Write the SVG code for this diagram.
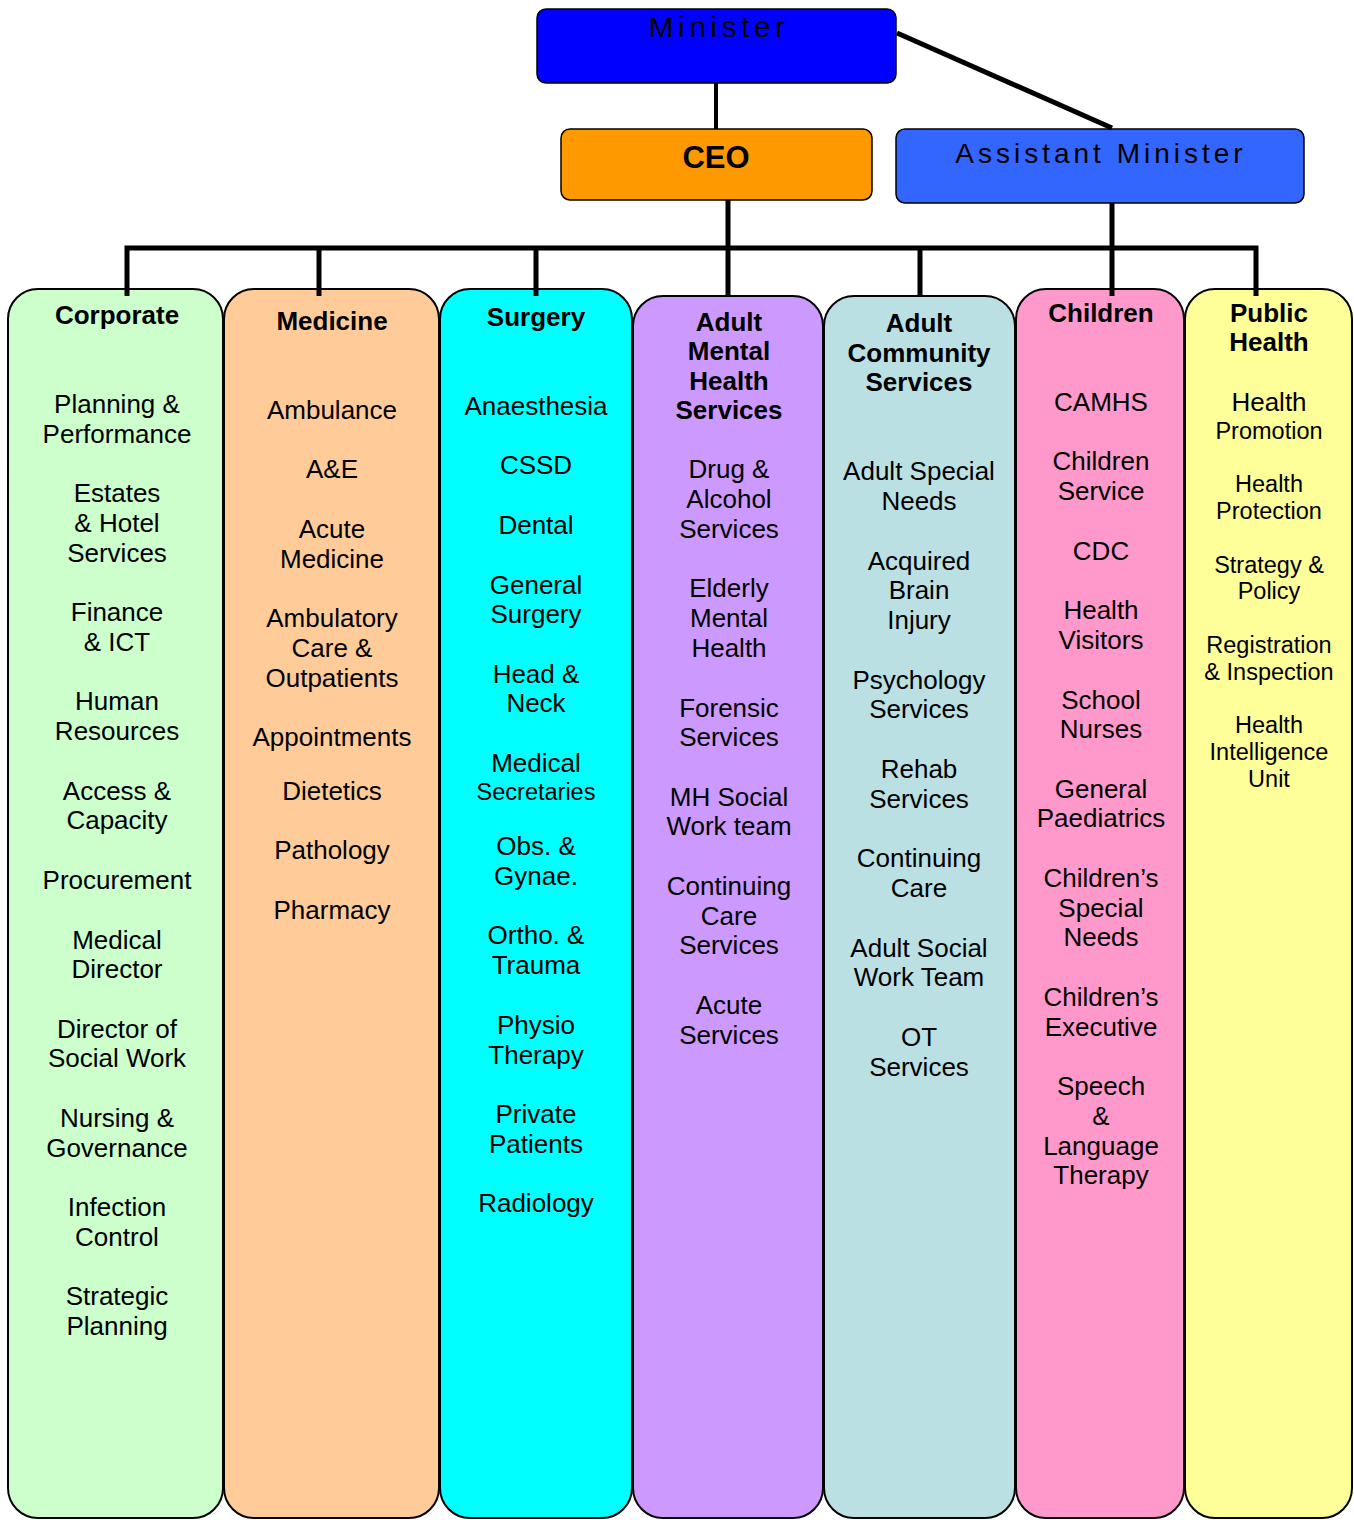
<svg xmlns="http://www.w3.org/2000/svg" width="1354" height="1520" viewBox="0 0 1354 1520">
<style>
.col{stroke:#000;stroke-width:2}
.top{stroke:#000;stroke-width:1.5}
text{font-family:"Liberation Sans",Arial,sans-serif;fill:#000;text-anchor:middle}
.h{font-weight:bold;font-size:26px}
.t{font-size:26px}
.s{font-size:23.5px}
.con{stroke:#000;stroke-width:5;fill:none}
</style>
<rect width="1354" height="1520" fill="#fff"/>
<g id="corporate">
<rect class="col" x="8" y="289" width="215" height="1229" rx="30" fill="#CCFFCC"/>
<text class="h" x="117" y="324">Corporate</text>
<text class="t"><tspan x="117" y="413">Planning &amp;</tspan><tspan x="117" y="443">Performance</tspan><tspan x="117" y="502">Estates</tspan><tspan x="117" y="532">&amp; Hotel</tspan><tspan x="117" y="562">Services</tspan><tspan x="117" y="621">Finance</tspan><tspan x="117" y="651">&amp; ICT</tspan><tspan x="117" y="710">Human</tspan><tspan x="117" y="740">Resources</tspan><tspan x="117" y="800">Access &amp;</tspan><tspan x="117" y="829">Capacity</tspan><tspan x="117" y="889">Procurement</tspan><tspan x="117" y="949">Medical</tspan><tspan x="117" y="978">Director</tspan><tspan x="117" y="1038">Director of</tspan><tspan x="117" y="1067">Social Work</tspan><tspan x="117" y="1127">Nursing &amp;</tspan><tspan x="117" y="1157">Governance</tspan><tspan x="117" y="1216">Infection</tspan><tspan x="117" y="1246">Control</tspan><tspan x="117" y="1305">Strategic</tspan><tspan x="117" y="1335">Planning</tspan></text>
</g>
<g id="medicine">
<rect class="col" x="224" y="289" width="215" height="1229" rx="30" fill="#FFCC99"/>
<text class="h" x="332" y="330">Medicine</text>
<text class="t"><tspan x="332" y="419">Ambulance</tspan><tspan x="332" y="478">A&amp;E</tspan><tspan x="332" y="538">Acute</tspan><tspan x="332" y="568">Medicine</tspan><tspan x="332" y="627">Ambulatory</tspan><tspan x="332" y="657">Care &amp;</tspan><tspan x="332" y="687">Outpatients</tspan><tspan x="332" y="746">Appointments</tspan><tspan x="332" y="800">Dietetics</tspan><tspan x="332" y="859">Pathology</tspan><tspan x="332" y="919">Pharmacy</tspan></text>
</g>
<g id="surgery">
<rect class="col" x="440" y="289" width="192" height="1229" rx="30" fill="#00FFFF"/>
<text class="h" x="536" y="326">Surgery</text>
<text class="t"><tspan x="536" y="415">Anaesthesia</tspan><tspan x="536" y="474">CSSD</tspan><tspan x="536" y="534">Dental</tspan><tspan x="536" y="594">General</tspan><tspan x="536" y="623">Surgery</tspan><tspan x="536" y="683">Head &amp;</tspan><tspan x="536" y="712">Neck</tspan><tspan x="536" y="772">Medical</tspan><tspan x="536" y="855">Obs. &amp;</tspan><tspan x="536" y="885">Gynae.</tspan><tspan x="536" y="944">Ortho. &amp;</tspan><tspan x="536" y="974">Trauma</tspan><tspan x="536" y="1034">Physio</tspan><tspan x="536" y="1064">Therapy</tspan><tspan x="536" y="1123">Private</tspan><tspan x="536" y="1153">Patients</tspan><tspan x="536" y="1212">Radiology</tspan></text>
<text class="s" x="536" y="800">Secretaries</text>
</g>
<g id="adult-mental-health">
<rect class="col" x="633" y="296" width="190" height="1222" rx="30" fill="#CC99FF"/>
<text class="h"><tspan x="729" y="331">Adult</tspan><tspan x="729" y="360">Mental</tspan><tspan x="729" y="390">Health</tspan><tspan x="729" y="419">Services</tspan></text>
<text class="t"><tspan x="729" y="478">Drug &amp;</tspan><tspan x="729" y="508">Alcohol</tspan><tspan x="729" y="538">Services</tspan><tspan x="729" y="597">Elderly</tspan><tspan x="729" y="627">Mental</tspan><tspan x="729" y="657">Health</tspan><tspan x="729" y="717">Forensic</tspan><tspan x="729" y="746">Services</tspan><tspan x="729" y="806">MH Social</tspan><tspan x="729" y="835">Work team</tspan><tspan x="729" y="895">Continuing</tspan><tspan x="729" y="925">Care</tspan><tspan x="729" y="954">Services</tspan><tspan x="729" y="1014">Acute</tspan><tspan x="729" y="1044">Services</tspan></text>
</g>
<g id="adult-community-services">
<rect class="col" x="824" y="296" width="191" height="1222" rx="30" fill="#BAE0E3"/>
<text class="h"><tspan x="919" y="332">Adult</tspan><tspan x="919" y="362">Community</tspan><tspan x="919" y="391">Services</tspan></text>
<text class="t"><tspan x="919" y="480">Adult Special</tspan><tspan x="919" y="510">Needs</tspan><tspan x="919" y="570">Acquired</tspan><tspan x="919" y="599">Brain</tspan><tspan x="919" y="629">Injury</tspan><tspan x="919" y="689">Psychology</tspan><tspan x="919" y="718">Services</tspan><tspan x="919" y="778">Rehab</tspan><tspan x="919" y="808">Services</tspan><tspan x="919" y="867">Continuing</tspan><tspan x="919" y="897">Care</tspan><tspan x="919" y="957">Adult Social</tspan><tspan x="919" y="986">Work Team</tspan><tspan x="919" y="1046">OT</tspan><tspan x="919" y="1076">Services</tspan></text>
</g>
<g id="children">
<rect class="col" x="1016" y="289" width="168" height="1229" rx="30" fill="#FF99CC"/>
<text class="h" x="1101" y="322">Children</text>
<text class="t"><tspan x="1101" y="411">CAMHS</tspan><tspan x="1101" y="470">Children</tspan><tspan x="1101" y="500">Service</tspan><tspan x="1101" y="560">CDC</tspan><tspan x="1101" y="619">Health</tspan><tspan x="1101" y="649">Visitors</tspan><tspan x="1101" y="709">School</tspan><tspan x="1101" y="738">Nurses</tspan><tspan x="1101" y="798">General</tspan><tspan x="1101" y="827">Paediatrics</tspan><tspan x="1101" y="887">Children’s</tspan><tspan x="1101" y="917">Special</tspan><tspan x="1101" y="946">Needs</tspan><tspan x="1101" y="1006">Children’s</tspan><tspan x="1101" y="1036">Executive</tspan><tspan x="1101" y="1095">Speech</tspan><tspan x="1101" y="1125">&amp;</tspan><tspan x="1101" y="1155">Language</tspan><tspan x="1101" y="1184">Therapy</tspan></text>
</g>
<g id="public-health">
<rect class="col" x="1185" y="289" width="167" height="1229" rx="30" fill="#FFFF99"/>
<text class="h"><tspan x="1269" y="322">Public</tspan><tspan x="1269" y="351">Health</tspan></text>
<text class="t" x="1269" y="411">Health</text>
<text class="s"><tspan x="1269" y="439">Promotion</tspan><tspan x="1269" y="492">Health</tspan><tspan x="1269" y="519">Protection</tspan><tspan x="1269" y="573">Strategy &amp;</tspan><tspan x="1269" y="599">Policy</tspan><tspan x="1269" y="653">Registration</tspan><tspan x="1269" y="680">&amp; Inspection</tspan><tspan x="1269" y="733">Health</tspan><tspan x="1269" y="760">Intelligence</tspan><tspan x="1269" y="787">Unit</tspan></text>
</g>
<g id="minister">
<rect class="top" x="537" y="9" width="359" height="74" rx="9" fill="#0000FF"/>
<text x="719" y="37" style="font-size:30px;letter-spacing:4.5px">Minister</text>
</g>
<g id="ceo">
<rect class="top" x="561" y="129" width="311" height="71" rx="9" fill="#FF9900"/>
<text x="716" y="168" style="font-size:31px;font-weight:bold">CEO</text>
</g>
<g id="assistant-minister">
<rect class="top" x="896" y="129" width="408" height="74" rx="9" fill="#3366FF"/>
<text x="1101" y="163" style="font-size:28px;letter-spacing:4px">Assistant Minister</text>
</g>
<g id="connectors">
<line class="con" x1="716" y1="83" x2="716" y2="129" style="stroke-width:4"/>
<line class="con" x1="897" y1="33" x2="1112" y2="128"/>
<line class="con" x1="728" y1="200" x2="728" y2="296"/>
<line class="con" x1="1112" y1="203" x2="1112" y2="296"/>
<polyline class="con" points="127,296 127,248 1256,248 1256,296"/>
<line class="con" x1="319" y1="248" x2="319" y2="296"/>
<line class="con" x1="536" y1="248" x2="536" y2="296"/>
<line class="con" x1="920" y1="248" x2="920" y2="296"/>
</g>
</svg>
